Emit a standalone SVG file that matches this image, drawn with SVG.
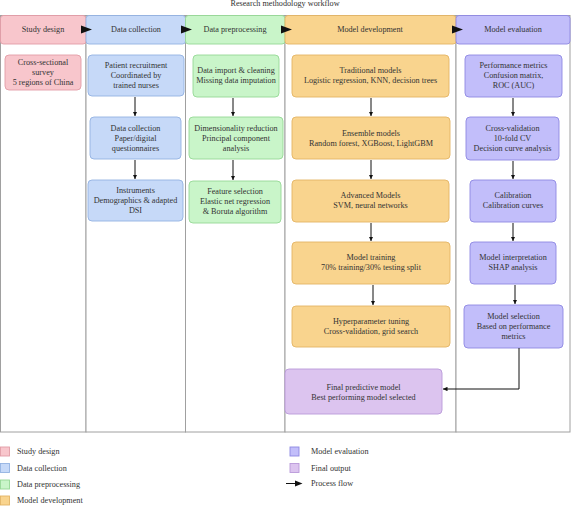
<svg xmlns="http://www.w3.org/2000/svg" width="571" height="506" viewBox="0 0 571 506">
<style>
text{font-family:"Liberation Serif","Times New Roman",serif;font-size:8.2px;fill:#333;text-anchor:middle}
.lg{text-anchor:start}
.lane{fill:#fff;stroke:#a0a0a0;stroke-width:1}
.pk{fill:#f8c6cc;stroke:#e29ca6}
.bl{fill:#c6d9f8;stroke:#93b2e2}
.gr{fill:#c9f5c9;stroke:#95d895}
.or{fill:#f9d48e;stroke:#e3b465}
.pu{fill:#c2befa;stroke:#8e88e2}
.fo{fill:#dcc4ef;stroke:#b99ad9}
.n{stroke-width:0.9}
.c{fill:none;stroke:#111;stroke-width:1}
.tri{fill:#111}
</style>
<defs>
<marker id="ah" viewBox="0 0 10 10" refX="10" refY="5" markerWidth="4.5" markerHeight="4.5" markerUnits="userSpaceOnUse" orient="auto"><path d="M0,0 L10,5 L0,10 z" fill="#111"/></marker>
</defs>
<text x="285" y="5.5">Research methodology workflow</text>
<g id="lanes">
<rect class="lane" x="0.5" y="15.5" width="85.5" height="416.5"/>
<rect class="lane" x="86" y="15.5" width="99.5" height="416.5"/>
<rect class="lane" x="185.5" y="15.5" width="99.5" height="416.5"/>
<rect class="lane" x="285" y="15.5" width="171" height="416.5"/>
<rect class="lane" x="456" y="15.5" width="114" height="416.5"/>
</g>
<g id="headers">
<g id="h-study"><rect class="pk n" x="0.5" y="15.5" width="85.5" height="28.5" rx="3"/><text x="43" y="31.8">Study design</text></g>
<g id="h-collect"><rect class="bl n" x="86" y="15.5" width="99.5" height="28.5" rx="3"/><text x="136" y="31.8">Data collection</text></g>
<g id="h-prep"><rect class="gr n" x="185.5" y="15.5" width="99.5" height="28.5" rx="3"/><text x="235" y="31.8">Data preprocessing</text></g>
<g id="h-dev"><rect class="or n" x="285" y="15.5" width="171" height="28.5" rx="3"/><text x="370" y="31.8">Model development</text></g>
<g id="h-eval"><rect class="pu n" x="456" y="15.5" width="114" height="28.5" rx="3"/><text x="513" y="31.8">Model evaluation</text></g>
</g>
<g id="n-survey"><rect class="pk n" x="5" y="55" width="76" height="35" rx="4"/><text x="43" y="64.8">Cross-sectional</text><text x="43" y="74.8">survey</text><text x="43" y="84.6">5 regions of China</text></g>
<g id="n-recruit"><rect class="bl n" x="88" y="55" width="96" height="41" rx="4"/><text x="136" y="67.8">Patient recruitment</text><text x="136" y="77.8">Coordinated by</text><text x="136" y="87.8">trained nurses</text></g>
<g id="n-dc"><rect class="bl n" x="90" y="117" width="91" height="42" rx="4"/><text x="135.5" y="130.8">Data collection</text><text x="135.5" y="140.8">Paper/digital</text><text x="135.5" y="150.8">questionnaires</text></g>
<g id="n-instr"><rect class="bl n" x="88" y="180" width="95" height="41" rx="4"/><text x="135.5" y="193.3">Instruments</text><text x="135.5" y="203.3">Demographics &amp; adapted</text><text x="135.5" y="213.3">DSI</text></g>
<g id="n-import"><rect class="gr n" x="193" y="55" width="86" height="42" rx="4"/><text x="236" y="73.3">Data import &amp; cleaning</text><text x="236" y="83.3">Missing data imputation</text></g>
<g id="n-dim"><rect class="gr n" x="189" y="117" width="94" height="42" rx="4"/><text x="236" y="130.8">Dimensionality reduction</text><text x="236" y="140.8">Principal component</text><text x="236" y="150.8">analysis</text></g>
<g id="n-feat"><rect class="gr n" x="189" y="181" width="92" height="42" rx="4"/><text x="235" y="194.3">Feature selection</text><text x="235" y="204.3">Elastic net regression</text><text x="235" y="214.3">&amp; Boruta algorithm</text></g>
<g id="n-trad"><rect class="or n" x="292" y="55" width="157" height="42" rx="4"/><text x="370.5" y="73">Traditional models</text><text x="370.5" y="83">Logistic regression, KNN, decision trees</text></g>
<g id="n-ens"><rect class="or n" x="292" y="117" width="158" height="42" rx="4"/><text x="371" y="135.8">Ensemble models</text><text x="371" y="145.8">Random forest, XGBoost, LightGBM</text></g>
<g id="n-adv"><rect class="or n" x="292" y="180" width="157" height="42" rx="4"/><text x="370.5" y="198.3">Advanced Models</text><text x="370.5" y="208.3">SVM, neural networks</text></g>
<g id="n-train"><rect class="or n" x="292" y="242" width="158" height="42" rx="4"/><text x="371" y="260.3">Model training</text><text x="371" y="270.3">70% training/30% testing split</text></g>
<g id="n-hyper"><rect class="or n" x="292" y="306" width="158" height="41" rx="4"/><text x="371" y="323.8">Hyperparameter tuning</text><text x="371" y="333.8">Cross-validation, grid search</text></g>
<g id="n-perf"><rect class="pu n" x="465" y="55" width="97" height="42" rx="4"/><text x="513.5" y="67.8">Performance metrics</text><text x="513.5" y="77.8">Confusion matrix,</text><text x="513.5" y="87.8">ROC (AUC)</text></g>
<g id="n-cv"><rect class="pu n" x="466" y="117" width="93" height="43" rx="4"/><text x="512.5" y="130.8">Cross-validation</text><text x="512.5" y="140.8">10-fold CV</text><text x="512.5" y="150.8">Decision curve analysis</text></g>
<g id="n-cal"><rect class="pu n" x="470" y="180" width="86" height="42" rx="4"/><text x="513" y="197.8">Calibration</text><text x="513" y="207.8">Calibration curves</text></g>
<g id="n-interp"><rect class="pu n" x="470" y="242" width="86" height="42" rx="4"/><text x="513" y="260.3">Model interpretation</text><text x="513" y="270.3">SHAP analysis</text></g>
<g id="n-sel"><rect class="pu n" x="464" y="305" width="99" height="43" rx="4"/><text x="513.5" y="318.8">Model selection</text><text x="513.5" y="328.8">Based on performance</text><text x="513.5" y="338.8">metrics</text></g>
<g id="n-final"><rect class="fo n" x="285" y="369" width="157" height="45" rx="4"/><text x="363.5" y="389.8">Final predictive model</text><text x="363.5" y="399.8">Best performing model selected</text></g>
<g id="connectors">
<path class="tri" d="M81,25.5 L92,29.5 L81,33.5 z"/>
<path class="tri" d="M181,25.5 L192,29.5 L181,33.5 z"/>
<path class="tri" d="M281,25.5 L292,29.5 L281,33.5 z"/>
<path class="tri" d="M452,25.5 L463,29.5 L452,33.5 z"/>
<path class="c" d="M135,97 V116" marker-end="url(#ah)"/>
<path class="c" d="M135,160 V179" marker-end="url(#ah)"/>
<path class="c" d="M233,98 V116" marker-end="url(#ah)"/>
<path class="c" d="M233,160 V180" marker-end="url(#ah)"/>
<path class="c" d="M371,98 V116" marker-end="url(#ah)"/>
<path class="c" d="M371,160 V179" marker-end="url(#ah)"/>
<path class="c" d="M371,223 V241" marker-end="url(#ah)"/>
<path class="c" d="M373,285 V305" marker-end="url(#ah)"/>
<path class="c" d="M513,98 V116" marker-end="url(#ah)"/>
<path class="c" d="M513,161 V179" marker-end="url(#ah)"/>
<path class="c" d="M513,223 V241" marker-end="url(#ah)"/>
<path class="c" d="M515,285 V304" marker-end="url(#ah)"/>
<path class="c" d="M519,348 V389 H443" marker-end="url(#ah)"/>
</g>
<g id="legend">
<rect class="pk n" x="0.5" y="447" width="9" height="9"/><text class="lg" x="17" y="454.3">Study design</text>
<rect class="bl n" x="0.5" y="463.5" width="9" height="9"/><text class="lg" x="17" y="470.8">Data collection</text>
<rect class="gr n" x="0.5" y="480" width="9" height="9"/><text class="lg" x="17" y="487.3">Data preprocessing</text>
<rect class="or n" x="0.5" y="496" width="9" height="9"/><text class="lg" x="17" y="503.3">Model development</text>
<rect class="pu n" x="290" y="447" width="9" height="9"/><text class="lg" x="311" y="454.3">Model evaluation</text>
<rect class="fo n" x="290" y="463.5" width="9" height="9"/><text class="lg" x="311" y="470.8">Final output</text>
<path class="c" d="M286,483.5 H296"/><path class="tri" d="M295,480.5 L302.5,483.5 L295,486.5 z"/><text class="lg" x="311" y="486.3">Process flow</text>
</g>
</svg>
